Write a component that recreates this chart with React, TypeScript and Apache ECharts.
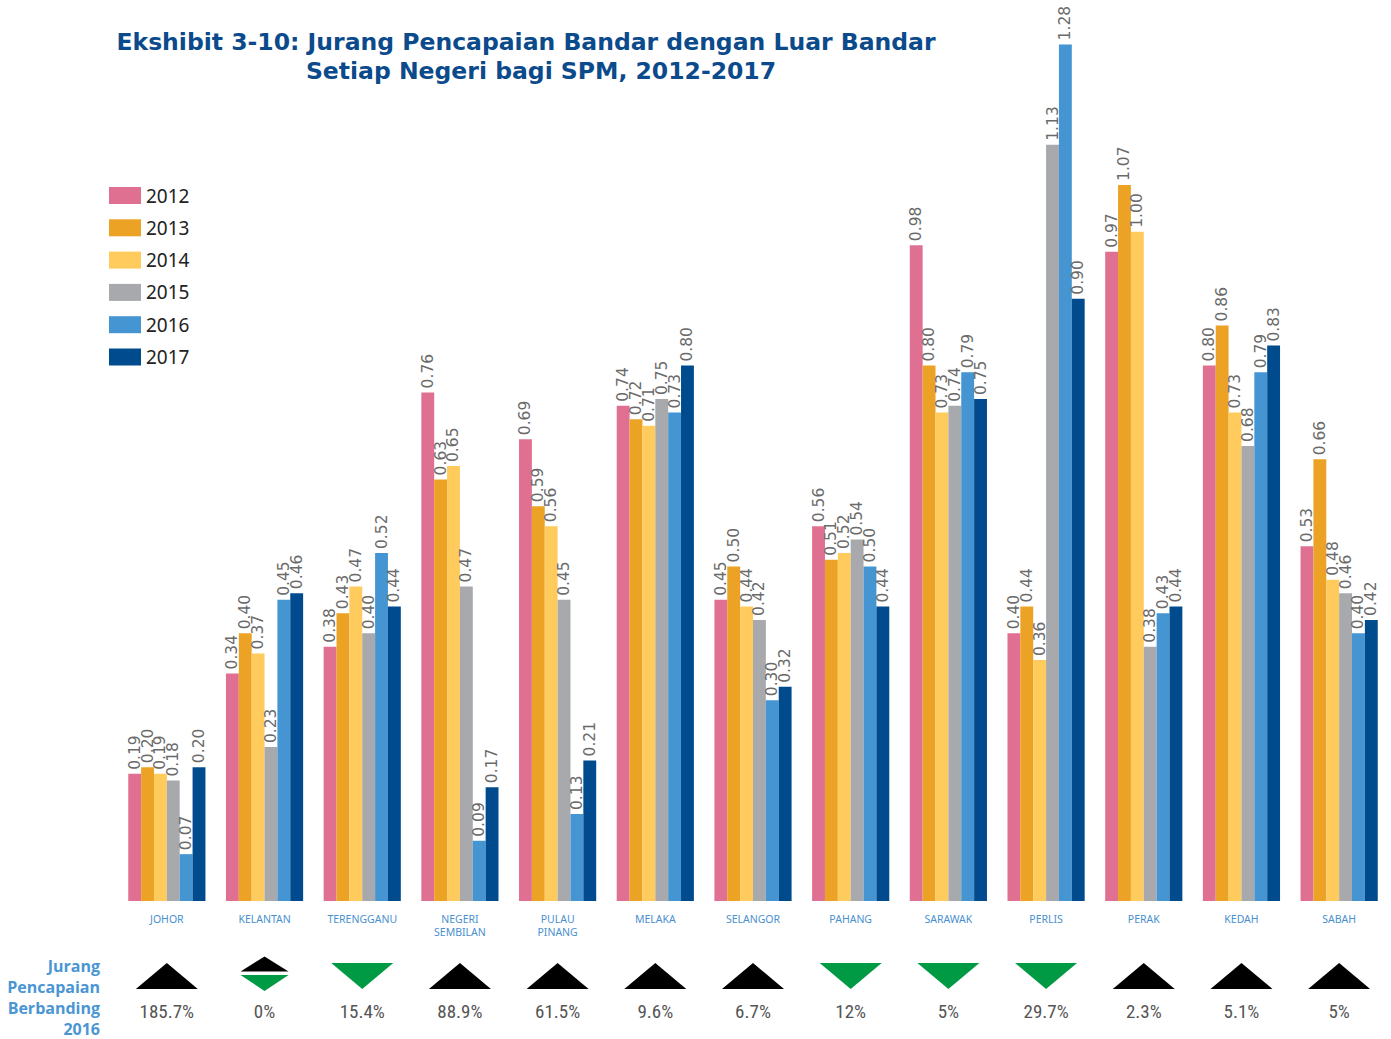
import React, { useEffect, useRef } from "react";
import * as echarts from "echarts";

const states = [
  "JOHOR", "KELANTAN", "TERENGGANU", "NEGERI\nSEMBILAN", "PULAU\nPINANG", "MELAKA",
  "SELANGOR", "PAHANG", "SARAWAK", "PERLIS", "PERAK", "KEDAH", "SABAH",
];
const years = ["2012", "2013", "2014", "2015", "2016", "2017"];
const v2012 = [0.19, 0.34, 0.38, 0.76, 0.69, 0.74, 0.45, 0.56, 0.98, 0.40, 0.97, 0.80, 0.53];
const v2013 = [0.20, 0.40, 0.43, 0.63, 0.59, 0.72, 0.50, 0.51, 0.80, 0.44, 1.07, 0.86, 0.66];
const v2014 = [0.19, 0.37, 0.47, 0.65, 0.56, 0.71, 0.44, 0.52, 0.73, 0.36, 1.00, 0.73, 0.48];
const v2015 = [0.18, 0.23, 0.40, 0.47, 0.45, 0.75, 0.42, 0.54, 0.74, 1.13, 0.38, 0.68, 0.46];
const v2016 = [0.07, 0.45, 0.52, 0.09, 0.13, 0.73, 0.30, 0.50, 0.79, 1.28, 0.43, 0.79, 0.40];
const v2017 = [0.20, 0.46, 0.44, 0.17, 0.21, 0.80, 0.32, 0.44, 0.75, 0.90, 0.44, 0.83, 0.42];
const changeLabels = ["185.7%", "0%", "15.4%", "88.9%", "61.5%", "9.6%", "6.7%", "12%", "5%", "29.7%", "2.3%", "5.1%", "5%"];
const changeDirection = ["up", "flat", "down", "up", "up", "up", "up", "down", "down", "down", "up", "up", "up"];

const seriesValues = [v2012, v2013, v2014, v2015, v2016, v2017];
const colors = ["#e07092", "#eba225", "#fecb5c", "#a8a9ad", "#4595d3", "#004b8d"];

const UP_COLOR = "#000000";
const DOWN_COLOR = "#009a44";

export default function App() {
  const ref = useRef<HTMLDivElement>(null);
  useEffect(() => {
    document.body.style.margin = "0";
    const chart = echarts.init(ref.current!, null, { renderer: "svg" });

    const barSeries = years.map((y, i) => ({
      name: y,
      type: "bar",
      xAxisIndex: 0,
      yAxisIndex: 0,
      data: seriesValues[i],
      itemStyle: { color: colors[i] },
      barGap: "0%",
      barCategoryGap: "21%",
      label: {
        show: true,
        position: "top",
        rotate: 90,
        align: "left",
        verticalAlign: "middle",
        distance: 4,
        color: "#6a6a6a",
        fontSize: 15.5,
        fontFamily: "'DejaVu Sans', sans-serif",
        formatter: (p: any) => Number(p.value).toFixed(2),
      },
    }));

    const triangleData: any[] = [];
    changeDirection.forEach((d, i) => {
      if (d === "up") {
        triangleData.push({ value: [i, 0.5], symbolRotate: 0, symbolSize: [62, 26], itemStyle: { color: UP_COLOR, opacity: 1 } });
      } else if (d === "down") {
        triangleData.push({ value: [i, 0.5], symbolRotate: 180, symbolSize: [62, 26], itemStyle: { color: DOWN_COLOR, opacity: 1 } });
      } else {
        triangleData.push({ value: [i, 0.74], symbolRotate: 0, symbolSize: [48, 15], itemStyle: { color: UP_COLOR, opacity: 1 } });
        triangleData.push({ value: [i, 0.36], symbolRotate: 180, symbolSize: [48, 16], itemStyle: { color: DOWN_COLOR, opacity: 1 } });
      }
    });

    chart.setOption({
      animation: false,
      backgroundColor: "#ffffff",
      grid: [
        { left: 118, right: 3, top: 31, bottom: 138 },
        { left: 118, right: 3, top: 951, height: 50 },
      ],
      xAxis: [
        {
          type: "category",
          gridIndex: 0,
          data: states,
          axisLine: { show: false },
          axisTick: { show: false },
          axisLabel: {
            color: "#4a90cf",
            fontSize: 10.5,
            lineHeight: 13,
            margin: 11,
            interval: 0,
            fontFamily: "'Noto Sans', sans-serif",
          },
        },
        {
          type: "category",
          gridIndex: 1,
          data: changeLabels,
          axisLine: { show: false },
          axisTick: { show: false },
          axisLabel: {
            color: "#555555",
            fontSize: 19,
            margin: 1,
            interval: 0,
            fontFamily: "'Liberation Sans Narrow', 'Roboto Condensed', Roboto, sans-serif",
          },
        },
      ],
      yAxis: [
        { type: "value", gridIndex: 0, min: 0, max: 1.3, show: false },
        { type: "value", gridIndex: 1, min: 0, max: 1, show: false },
      ],
      legend: {
        orient: "vertical",
        left: 104,
        top: 181,
        itemWidth: 32,
        itemHeight: 17,
        itemGap: 13.3,
        icon: "rect",
        data: years,
        textStyle: { fontSize: 19, color: "#222222", fontFamily: "'Noto Sans', sans-serif" },
      },
      series: [
        ...barSeries,
        {
          type: "scatter",
          xAxisIndex: 1,
          yAxisIndex: 1,
          symbol: "triangle",
          data: triangleData,
          silent: true,
          itemStyle: { opacity: 1 },
        },
      ],
      graphic: [
        {
          type: "text",
          x: 526,
          y: 42,
          style: {
            text: "Ekshibit 3-10: Jurang Pencapaian Bandar dengan Luar Bandar",
            align: "center",
            verticalAlign: "middle",
            fill: "#0b4a8b",
            font: "bold 23.5px 'DejaVu Sans', sans-serif",
          },
        },
        {
          type: "text",
          x: 541,
          y: 71,
          style: {
            text: "Setiap Negeri bagi SPM, 2012-2017",
            align: "center",
            verticalAlign: "middle",
            fill: "#0b4a8b",
            font: "bold 23.5px 'DejaVu Sans', sans-serif",
          },
        },
        {
          type: "text",
          x: 100,
          y: 955,
          style: {
            text: "Jurang\nPencapaian\nBerbanding\n2016",
            align: "right",
            verticalAlign: "top",
            fill: "#4a96d4",
            lineHeight: 21,
            font: "bold 16px 'Open Sans', sans-serif",
          },
        },
        {
          type: "text",
          x: 688,
          y: 577,
          rotation: Math.PI / 2,
          style: {
            text: "0.21",
            align: "left",
            verticalAlign: "middle",
            fill: "#555555",
            opacity: 0.6,
            font: "14px 'DejaVu Sans', sans-serif",
          },
        },
      ],
    });
    return () => chart.dispose();
  }, []);
  return <div ref={ref} style={{ width: 1391, height: 1039 }} />;
}
